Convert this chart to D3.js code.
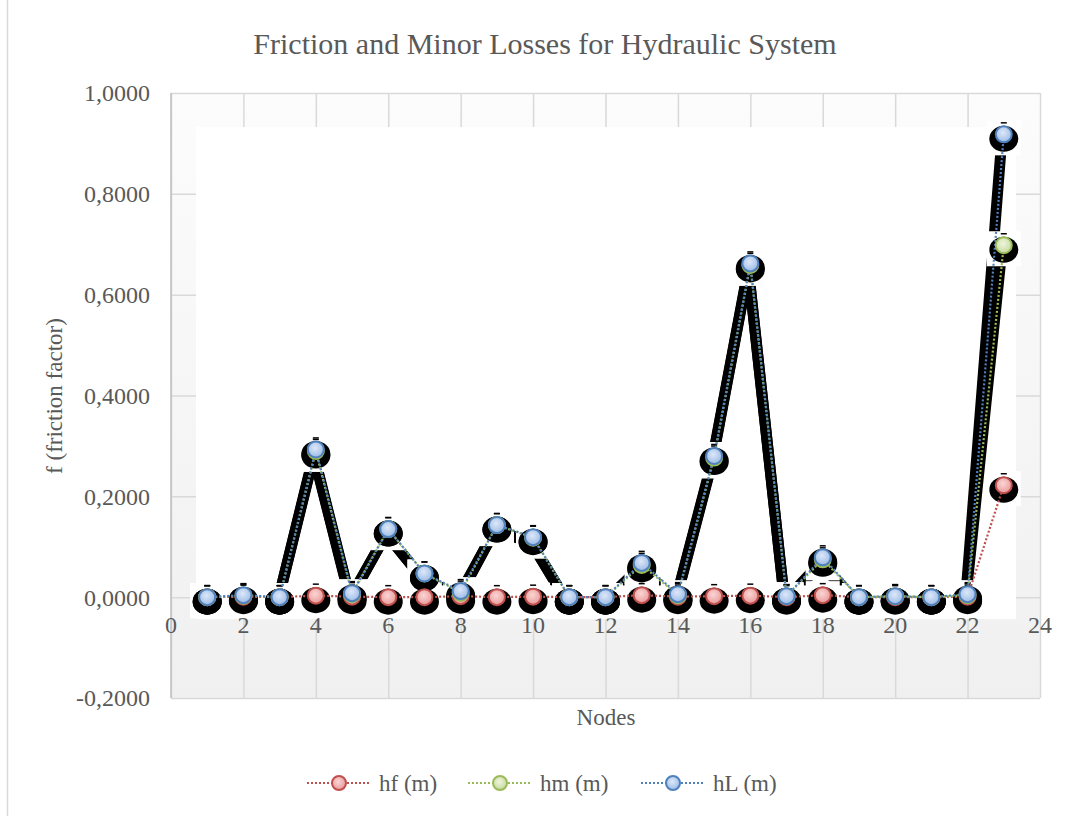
<!DOCTYPE html>
<html>
<head>
<meta charset="utf-8">
<script src="https://cdn.jsdelivr.net/npm/d3@7"></script>
<style>
  body { margin: 0; background: #fff; }
  svg text { font-family: "Liberation Serif", "Times New Roman", serif; fill: #595959; }
</style>
</head>
<body>
<div class="chart-container"></div>
<script>
// data
const nodes = [1, 2, 3, 4, 5, 6, 7, 8, 9, 10, 11, 12, 13, 14, 15, 16, 17, 18, 19, 20, 21, 22, 23]
const hf = [0.000, 0.001, 0.000, 0.003, 0.001, 0.000, 0.000, 0.002, 0.000, 0.001, 0.000, 0.000,
  0.004, 0.001, 0.002, 0.003, 0.000, 0.004, 0.000, 0.000, 0.000, 0.001, 0.222]
const hm = [0.000, 0.003, 0.000, 0.290, 0.006, 0.135, 0.047, 0.009, 0.143, 0.118, 0.000, 0.000,
  0.064, 0.004, 0.277, 0.659, 0.002, 0.075, 0.000, 0.002, 0.000, 0.004, 0.698]
const hL = [0.000, 0.004, 0.000, 0.293, 0.008, 0.135, 0.047, 0.012, 0.143, 0.119, 0.000, 0.000,
  0.068, 0.006, 0.280, 0.662, 0.002, 0.079, 0.000, 0.002, 0.000, 0.006, 0.918]
const seriesNames = ['hf (m)', 'hm (m)', 'hL (m)']
const xTicks = [0, 2, 4, 6, 8, 10, 12, 14, 16, 18, 20, 22, 24]
const yTicks = [-0.2, 0, 0.2, 0.4, 0.6, 0.8, 1.0]

const series = [
  { name: seriesNames[0], values: hf, stroke: '#c0504d', fillIn: '#fbd5d5', fillOut: '#e89a99', shadow: false },
  { name: seriesNames[1], values: hm, stroke: '#9bbb59', fillIn: '#eef5dc', fillOut: '#c6d9a0', shadow: true },
  { name: seriesNames[2], values: hL, stroke: '#4f81bd', fillIn: '#dde8f8', fillOut: '#9dbbe6', shadow: true }
]

const svg_width = 1078
const svg_height = 816
const plot = { left: 171, right: 1040, top: 93, bottom: 698 }

const svg = d3.select('.chart-container').append('svg')
  .attr('width', svg_width).attr('height', svg_height)

const defs = svg.append('defs')
const bgGrad = defs.append('linearGradient').attr('id', 'plotbg')
  .attr('x1', 0).attr('y1', 0).attr('x2', 0).attr('y2', 1)
bgGrad.append('stop').attr('offset', '0%').attr('stop-color', '#fcfcfc')
bgGrad.append('stop').attr('offset', '100%').attr('stop-color', '#f0f0f0')
series.forEach((s, i) => {
  const g = defs.append('radialGradient').attr('id', 'mk' + i)
    .attr('cx', '45%').attr('cy', '40%').attr('r', '60%')
  g.append('stop').attr('offset', '0%').attr('stop-color', s.fillIn)
  g.append('stop').attr('offset', '100%').attr('stop-color', s.fillOut)
})

// scales
const xScale = d3.scaleLinear([0, 24], [plot.left, plot.right])
const yScale = d3.scaleLinear([-0.2, 1.0], [plot.bottom, plot.top])

defs.append('clipPath').attr('id', 'bandclip').append('rect')
  .attr('x', plot.left).attr('y', plot.top)
  .attr('width', plot.right - plot.left).attr('height', yScale(0) - 12 - plot.top)

// outer chart border
svg.append('rect').attr('x', 7.5).attr('y', -2).attr('width', svg_width + 4).attr('height', svg_height + 4)
  .attr('fill', 'none').attr('stroke', '#d9d9d9').attr('stroke-width', 1.5)

// title
svg.append('text').attr('x', 545).attr('y', 54).attr('text-anchor', 'middle')
  .style('font-size', '30px').text('Friction and Minor Losses for Hydraulic System')

// plot area
svg.append('rect').attr('x', plot.left).attr('y', plot.top)
  .attr('width', plot.right - plot.left).attr('height', plot.bottom - plot.top)
  .attr('fill', 'url(#plotbg)')

// grid
const xAxis = d3.axisBottom(xScale).tickValues(xTicks).tickSize(-(plot.bottom - plot.top)).tickFormat('')
svg.append('g').attr('class', 'x grid').attr('transform', `translate(0, ${plot.bottom})`).call(xAxis)
const yAxis = d3.axisLeft(yScale).tickValues(yTicks).tickSize(-(plot.right - plot.left)).tickFormat('')
svg.append('g').attr('class', 'y grid').attr('transform', `translate(${plot.left}, 0)`).call(yAxis)
svg.selectAll('.grid .domain').remove()
svg.selectAll('.grid line').attr('stroke', '#d9d9d9').attr('stroke-width', 1.5)
svg.append('line').attr('x1', plot.left).attr('x2', plot.left).attr('y1', plot.top).attr('y2', plot.bottom)
  .attr('stroke', '#bfbfbf').attr('stroke-width', 1.5)

// the white box that sits on the plot
svg.append('rect').attr('x', 196).attr('y', 127).attr('width', 820).attr('height', 492).attr('fill', '#fff')

// tick labels
const fmt = d => d3.format('.4f')(d).replace('.', ',').replace('−', '-')
svg.append('g').selectAll('text').data(yTicks).join('text')
  .attr('x', 150).attr('y', d => yScale(d)).attr('dy', '0.35em')
  .attr('text-anchor', 'end').style('font-size', '24px').text(fmt)
svg.append('g').selectAll('text').data(xTicks).join('text')
  .attr('x', d => xScale(d)).attr('y', yScale(0) + 36)
  .attr('text-anchor', 'middle').style('font-size', '24px').text(d => d)

// axis titles
svg.append('text').attr('x', 606).attr('y', 725).attr('text-anchor', 'middle')
  .style('font-size', '23px').text('Nodes')
svg.append('text').attr('transform', 'translate(62, 396) rotate(-90)').attr('text-anchor', 'middle')
  .style('font-size', '23px').text('f (friction factor)')

const pts = s => nodes.map((n, i) => ({ x: n, y: s.values[i] }))
const line = d3.line().x(d => xScale(d.x)).y(d => yScale(d.y))

// black shadow bands
const bands = svg.append('g').attr('clip-path', 'url(#bandclip)')
series.filter(s => s.shadow).forEach(s => {
  bands.append('path').datum(pts(s)).attr('d', line)
    .attr('transform', 'translate(-2, 5)')
    .attr('fill', 'none').attr('stroke', '#000').attr('stroke-width', 11)
})

// white boxes and black circles behind markers
const allPts = series.flatMap(s => pts(s))
svg.append('g').selectAll('rect').data(allPts).join('rect')
  .attr('x', d => xScale(d.x) - 17).attr('y', d => yScale(d.y) - 14)
  .attr('width', 34).attr('height', 35).attr('fill', '#fff')
svg.append('g').selectAll('ellipse').data(allPts).join('ellipse')
  .attr('cx', d => xScale(d.x)).attr('cy', d => yScale(d.y) + 4.5)
  .attr('rx', 14.5).attr('ry', 13).attr('fill', '#000')
svg.append('g').selectAll('line').data(allPts).join('line')
  .attr('x1', d => xScale(d.x) - 3).attr('x2', d => xScale(d.x) + 3)
  .attr('y1', d => yScale(d.y) - 11.5).attr('y2', d => yScale(d.y) - 11.5)
  .attr('stroke', '#000').attr('stroke-width', 1.5)

// dotted series lines and markers
series.forEach((s, i) => {
  svg.append('path').datum(pts(s)).attr('d', line)
    .attr('fill', 'none').attr('stroke', s.stroke).attr('stroke-width', 2.2)
    .attr('stroke-dasharray', '2,2')
})
series.forEach((s, i) => {
  svg.append('g').selectAll('circle').data(pts(s)).join('circle')
    .attr('cx', d => xScale(d.x)).attr('cy', d => yScale(d.y)).attr('r', 8)
    .attr('fill', `url(#mk${i})`).attr('stroke', s.stroke).attr('stroke-width', 2)
})

// legend
const legendX = [307, 468, 641]
const legend = svg.append('g')
series.forEach((s, i) => {
  const g = legend.append('g').attr('transform', `translate(${legendX[i]}, 783)`)
  g.append('line').attr('x1', 0).attr('x2', 64).attr('stroke', s.stroke)
    .attr('stroke-width', 2).attr('stroke-dasharray', '2,2')
  g.append('circle').attr('cx', 32).attr('r', 7).attr('fill', `url(#mk${i})`)
    .attr('stroke', s.stroke).attr('stroke-width', 2)
  g.append('text').attr('x', 72).attr('dy', '0.35em').style('font-size', '23px').text(s.name)
})
</script>
</body>
</html>
